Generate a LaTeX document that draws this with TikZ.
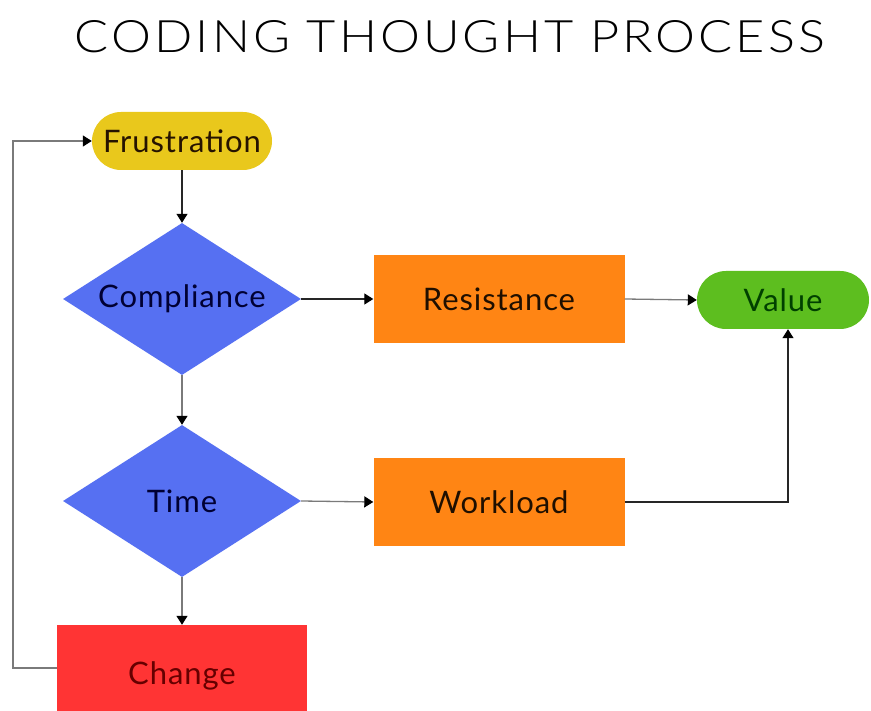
\documentclass[tikz,border=0pt]{standalone}
\usepackage{fontspec}
\setmainfont{Lato}[LetterSpace=3]
\newfontfamily\titlefont{Lato Light}[LetterSpace=6]
\usetikzlibrary{shapes.geometric,arrows.meta}
\definecolor{cyellow}{HTML}{E9C81C}
\definecolor{cblue}{HTML}{5670F2}
\definecolor{corange}{HTML}{FF8514}
\definecolor{cgreen}{HTML}{5DBE1F}
\definecolor{cred}{HTML}{FF3434}
\definecolor{cline}{HTML}{7A7A7A}
\tikzset{
  lbl/.style={font=\fontsize{31}{34}\selectfont, inner sep=0pt},
  pill/.style={lbl, rectangle, draw=none, rounded corners=29pt, minimum height=58pt},
  boxnode/.style={lbl, rectangle, fill=corange, text=black!80!orange!60!black, minimum width=251pt, minimum height=88pt},
  dia/.style={lbl, diamond, aspect=1.566, fill=cblue, text=blue!20!black, minimum width=238pt, minimum height=152pt},
  conn/.style={draw=cline, line width=1.3pt, -{Triangle[length=9pt,width=11pt,color=black]}},
  connb/.style={draw=black!85, line width=1.3pt, -{Triangle[length=9pt,width=11pt,color=black]}}
}
\begin{document}
\begin{tikzpicture}[x=1pt,y=-1pt]
\useasboundingbox (0,0) rectangle (871,711);
\clip (0,0) rectangle (871,711);
\fill[white] (0,0) rectangle (871,711);
\node[inner sep=0pt] (title) at (450,37) {\resizebox{750pt}{32pt}{\titlefont CODING THOUGHT PROCESS}};
\node[pill, fill=cyellow, minimum width=180pt, text=black!85!orange] (frus) at (182,141) {Frustration};
\node[dia] (comp) at (182,299) {Compliance};
\node[dia] (time) at (182,501) {Time};
\node[boxnode] (res) at (499,299) {Resistance};
\node[boxnode] (work) at (499,502) {Workload};
\node[pill, fill=cgreen, minimum width=172pt, text=green!25!black] (val) at (783,300) {Value};
\node[lbl, rectangle, fill=cred, text=red!40!black, minimum width=250pt, minimum height=102pt] (chg) at (182,676) {Change};
\coordinate (wc) at (788,502);
\coordinate (lb) at (13,668);
\coordinate (lt) at (13,141);
\draw[connb] (frus.south) -- (comp.north);
\draw[connb] (comp.east) -- (res.west);
\draw[conn] (res.east) -- (val.west);
\draw[conn] (comp.south) -- (time.north);
\draw[conn] (time.east) -- (work.west);
\draw[conn] (time.south) -- (chg.north);
\draw[connb] (work.east) -- (wc) -- (wc |- val.south);
\draw[conn] (chg.west |- lb) -- (lb) -- (lt) -- (frus.west);
\end{tikzpicture}
\end{document}
